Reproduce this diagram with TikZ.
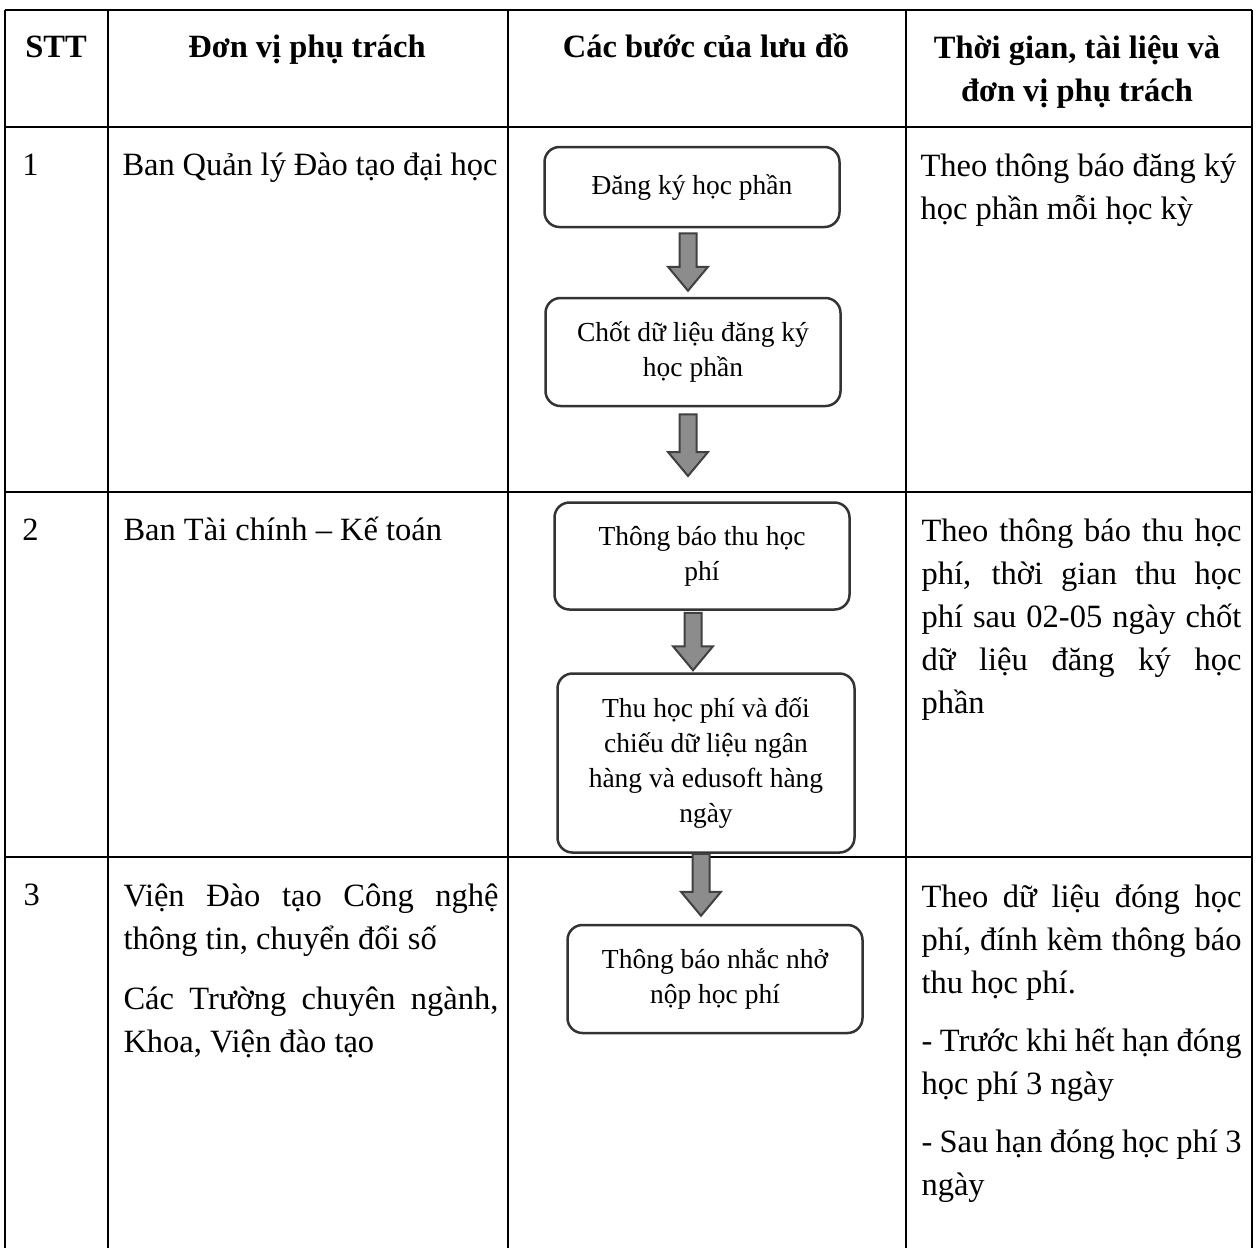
\documentclass[tikz,border=0pt]{standalone}
\usepackage{fontspec}
\setmainfont{Liberation Serif}
\usetikzlibrary{calc}
\hyphenpenalty=10000
\tolerance=9999

\begin{document}
\begin{tikzpicture}[x=0.4pt,y=-0.4pt,
        grid/.style={line width=0.8pt,draw=black},
        stepbox/.style={draw=black!80,line width=1pt,rounded corners=6pt,fill=white,
            minimum width=118pt,align=center,inner sep=2pt,
            font=\fontsize{11}{14}\selectfont},
        head/.style={anchor=base,align=center,inner sep=0pt,
            font=\fontsize{13}{17.2}\selectfont\bfseries},
        cell/.style={anchor=base west,inner sep=0pt,align=justify,
            font=\fontsize{13}{17.2}\selectfont},
        fat/.style={fill=black!45,draw=black!75,line width=0.8pt,
            to path={let \p1=(\tikztostart), \p2=(\tikztotarget) in
              (\x1-3.4pt,\y1) -- (\x1-3.4pt,\y2+9.6pt) -- (\x1-8pt,\y2+9.6pt) -- (\x1,\y2)
              -- (\x1+8pt,\y2+9.6pt) -- (\x1+3.4pt,\y2+9.6pt) -- (\x1+3.4pt,\y1) -- cycle}}]

        \useasboundingbox (0,0) rectangle (1259,1248);

        % table lines
        \draw[grid] (5,10) -- (1252,10);
        \draw[grid] (5,127) -- (1252,127);
        \draw[grid] (5,492) -- (1252,492);
        \draw[grid] (5,857) -- (1252,857);
        \draw[grid] (5,10) -- (5,1248);
        \draw[grid] (108,10) -- (108,1248);
        \draw[grid] (508,10) -- (508,1248);
        \draw[grid] (906,10) -- (906,1248);
        \draw[grid] (1252,10) -- (1252,1248);

        % header
        \node[head] (hstt) at (56,57) {STT};
        \node[head] (hunit) at (307,57) {Đơn vị phụ trách};
        \node[head] (hsteps) at (706,57) {Các bước của lưu đồ};
        \node[head] (htime) at (1077,101) {Thời gian, tài liệu và\\đơn vị phụ trách};

        % numbers
        \node[cell] (n1) at (22,175) {1};
        \node[cell] (n2) at (22,540) {2};
        \node[cell] (n3) at (23,905) {3};

        % units
        \node[cell,text width=150pt] (u1) at (122,175) {Ban Quản lý Đào tạo đại học};
        \node[cell,text width=150pt] (u2) at (123,540) {Ban Tài chính – Kế toán};
        \node[cell,text width=150pt] (u3) at (123,906) {Viện Đào tạo Công nghệ\linebreak
            thông tin, chuyển đổi số\\[6.8pt]
            Các Trường chuyên ngành,\linebreak Khoa, Viện đào tạo};

        % time and documents
        \node[cell,text width=128pt] (t1) at (920,176) {Theo thông báo đăng ký\\
            học phần mỗi học kỳ};
        \node[cell,text width=128pt] (t2) at (921,541) {Theo thông báo thu học\linebreak
            phí, thời gian thu học\linebreak phí sau 02-05 ngày chốt\linebreak
            dữ liệu đăng ký học\linebreak phần};
        \node[cell,text width=128pt] (t3) at (921,907) {Theo dữ liệu đóng học\linebreak
            phí, đính kèm thông báo\linebreak thu học phí.\\[6pt]
            - Trước khi hết hạn đóng\linebreak học phí 3 ngày\\[6pt]
            - Sau hạn đóng học phí 3\linebreak ngày};

        % flow chart
        \node[stepbox,minimum height=32pt] (b1) at (692,187) {Đăng ký học phần};
        \node[stepbox,minimum height=43.2pt] (b2) at (693,352) {Chốt dữ liệu đăng ký\\học phần};
        \node[stepbox,minimum height=42.8pt] (b3) at (702,556) {Thông báo thu học\\phí};
        \node[stepbox,minimum height=71.6pt,minimum width=118.8pt] (b4) at (706,763)
            {Thu học phí và đối\\chiếu dữ liệu ngân\\hàng và edusoft hàng\\ngày};
        \node[stepbox,minimum height=43.2pt] (b5) at (715,979) {Thông báo nhắc nhở\\nộp học phí};
        \coordinate (e2) at (688,476);

        \draw[fat] ([xshift=-1.6pt,yshift=-2pt]b1.south) to ([yshift=2.4pt]b2.north);
        \draw[fat] ([xshift=-2pt,yshift=-2.8pt]b2.south) to (e2);
        \draw[fat] ([xshift=-3.6pt,yshift=-0.8pt]b3.south) to ([yshift=0.8pt]b4.north);
        \draw[fat] ([xshift=-2pt]b4.south) to ([yshift=3.2pt]b5.north);

\end{tikzpicture}
\end{document}
